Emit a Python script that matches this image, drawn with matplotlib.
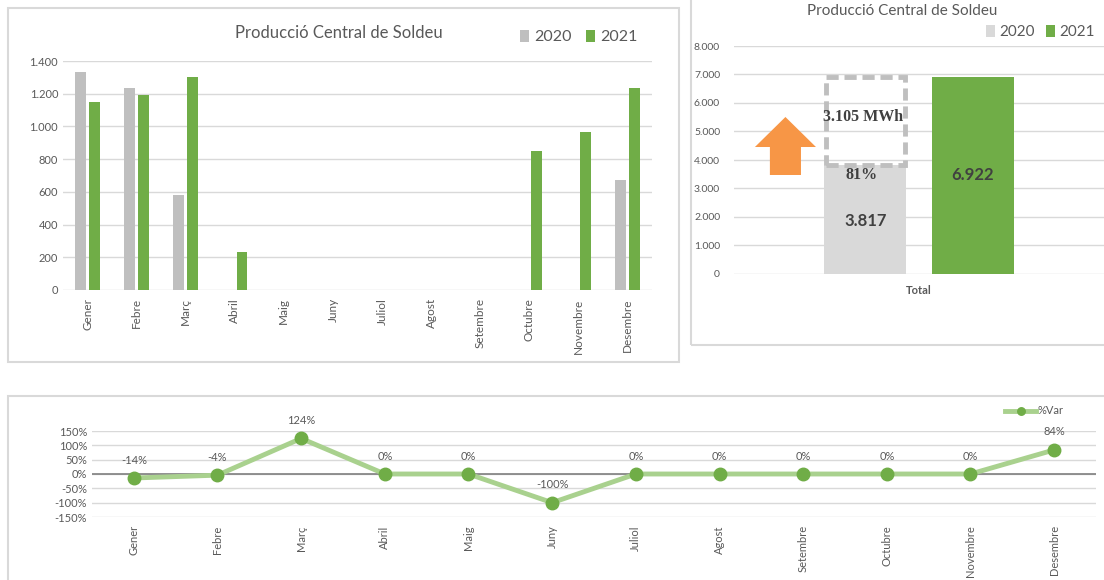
import matplotlib.pyplot as plt
from matplotlib.patches import Rectangle, FancyArrow
from matplotlib.ticker import FuncFormatter

# data
months = ['Gener', 'Febre', 'Març', 'Abril', 'Maig', 'Juny', 'Juliol', 'Agost',
          'Setembre', 'Octubre', 'Novembre', 'Desembre']
prod_2020 = [1332, 1235, 580, 0, 0, 0, 0, 0, 0, 0, 0, 670]
prod_2021 = [1148, 1190, 1300, 232, 0, 0, 0, 0, 0, 850, 968, 1234]
var_pct = [-14, -4, 124, 0, 0, -100, 0, 0, 0, 0, 0, 84]
title = 'Producció Central de Soldeu'

total_2020 = sum(prod_2020)
total_2021 = sum(prod_2021)

GREY = '#BFBFBF'
LGREY = '#D9D9D9'
GREEN = '#70AD47'
LGREEN = '#A9D18E'
TXT = '#595959'

plt.rcParams['font.family'] = ['Lato', 'DejaVu Sans']

W, H = 1104, 580
fig = plt.figure(figsize=(W / 100, H / 100), dpi=100)


def px(l, t, r, b):
    return [l / W, 1 - b / H, (r - l) / W, (b - t) / H]


def frame(l, t, r, b):
    fig.add_artist(Rectangle((l / W, 1 - b / H), (r - l) / W, (b - t) / H,
                             transform=fig.transFigure, fill=False, ec=LGREY, lw=1.5))


def thousands(v, pos):
    return f'{int(v):,}'.replace(',', '.')


def style(ax):
    for s in ax.spines.values():
        s.set_visible(False)
    ax.tick_params(length=0, colors=TXT, labelsize=8)
    ax.grid(axis='y', color=LGREY, lw=1)
    ax.set_axisbelow(True)


frame(8, 8, 679, 362)
frame(691, -5, 1110, 345)
frame(8, 396, 1110, 590)

# panel 1: monthly bars
ax1 = fig.add_axes(px(63, 61, 652, 290))
x = range(len(months))
ax1.bar([i - 0.145 for i in x], prod_2020, width=0.22, color=GREY, label='2020')
ax1.bar([i + 0.145 for i in x], prod_2021, width=0.22, color=GREEN, label='2021')
ax1.set_xlim(-0.5, 11.5)
ax1.set_ylim(0, 1400)
ax1.set_yticks(range(0, 1401, 200))
ax1.yaxis.set_major_formatter(FuncFormatter(thousands))
ax1.set_xticks(list(x))
ax1.set_xticklabels(months, rotation=90)
style(ax1)
ax1.tick_params(axis='x', pad=6, labelsize=8.5)
fig.text(339 / W, 1 - 33 / H, title, ha='center', va='center', fontsize=12, color=TXT)
ax1.legend(loc='center right', bbox_to_anchor=(652 / W, 1 - 37 / H), bbox_transform=fig.transFigure,
           frameon=False, ncol=2, fontsize=11.5, handlelength=0.6, handleheight=0.8,
           handletextpad=0.3, columnspacing=0.9, labelcolor=TXT)

# panel 2: totals
ax2 = fig.add_axes(px(734, 46, 1104, 274))
ax2.bar(-0.145, total_2020, width=0.222, color=LGREY, label='2020')
ax2.bar(0.145, total_2021, width=0.222, color=GREEN, label='2021')
ax2.add_patch(Rectangle((-0.145 - 0.106, total_2020), 0.212, total_2021 - total_2020,
                        fill=False, ec=GREY, lw=3.5, ls=(0, (2.5, 1.2))))
ax2.add_patch(FancyArrow(-0.361, 3474, 0, 2035, width=0.084, head_width=0.165,
                         head_length=1053, length_includes_head=True, color='#F79646', lw=0))
ax2.text(-0.15, total_2020 + (total_2021 - total_2020) * 0.55,
         f'{thousands(total_2021 - total_2020, 0)} MWh', ha='center', va='center',
         family='Liberation Serif', fontweight='bold', fontsize=11.5, color='#404040')
ax2.text(-0.155, total_2020 - 350, f'{(total_2021 - total_2020) / total_2020:.0%}',
         ha='center', va='center', family='Liberation Serif', fontweight='bold',
         fontsize=11.5, color='#404040')
ax2.text(-0.145, 1850, thousands(total_2020, 0), ha='center', va='center',
         fontweight='bold', fontsize=12, color='#404040')
ax2.text(0.145, total_2020 - 350, thousands(total_2021, 0), ha='center', va='center',
         fontweight='bold', fontsize=12, color='#404040')
ax2.set_xlim(-0.5, 0.5)
ax2.set_ylim(0, 8000)
ax2.set_yticks(range(0, 8001, 1000))
ax2.yaxis.set_major_formatter(FuncFormatter(thousands))
ax2.set_xticks([0])
ax2.set_xticklabels(['Total'], fontsize=7, fontweight='bold')
style(ax2)
ax2.tick_params(axis='y', labelsize=7.5, pad=10)
ax2.tick_params(axis='x', pad=8)
fig.text(902 / W, 1 - 11 / H, title, ha='center', va='center', fontsize=11, color=TXT)
ax2.legend(loc='center right', bbox_to_anchor=(1104 / W, 1 - 32 / H), bbox_transform=fig.transFigure,
           frameon=False, ncol=2, fontsize=11, handlelength=0.6, handleheight=0.8,
           handletextpad=0.3, columnspacing=0.7, labelcolor=TXT, borderaxespad=0.2)

# panel 3: variation
ax3 = fig.add_axes(px(92, 431, 1096, 517))
ax3.plot(list(x), var_pct, color=LGREEN, lw=3.5, marker='o', ms=9,
         mfc=GREEN, mec=GREEN, zorder=3, label='%Var')
for i, v in zip(x, var_pct):
    ax3.annotate(f'{v}%', (i, v), xytext=(0, 9), textcoords='offset points',
                 ha='center', va='bottom', fontsize=8, color=TXT)
ax3.axhline(0, color='#7F7F7F', lw=1.2, zorder=1)
ax3.set_xlim(-0.5, 11.5)
ax3.set_ylim(-150, 150)
ax3.set_yticks(range(-150, 151, 50))
ax3.yaxis.set_major_formatter(FuncFormatter(lambda v, p: f'{int(v)}%'))
ax3.set_xticks(list(x))
ax3.set_xticklabels(months, rotation=90)
style(ax3)
ax3.tick_params(axis='x', pad=6)
ax3.legend(loc='center right', bbox_to_anchor=(1068 / W, 1 - 411 / H), bbox_transform=fig.transFigure,
           frameon=False, fontsize=8, handlelength=2.8, handletextpad=0.1, labelcolor=TXT,
           borderaxespad=0, markerscale=0.6)

fig.savefig('out.png', dpi=100)
